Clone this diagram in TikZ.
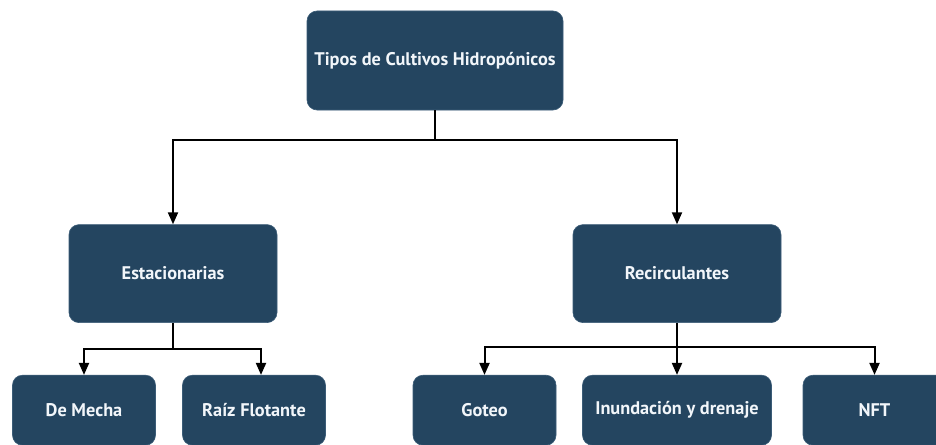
\documentclass[tikz,border=0pt]{standalone}
\usepackage{xcolor}
\usepackage{fontspec}
\setmainfont{PT Sans}
\usepackage{tikz}
\usetikzlibrary{arrows.meta,positioning,calc}
\definecolor{hidronavy}{HTML}{244560}
\definecolor{hidroedge}{HTML}{3B5C77}
\definecolor{hidrotext}{HTML}{F2F6FA}
\tikzstyle{tipo} = [rectangle, draw=hidroedge, line width=0.6pt, rounded corners=10pt,
    fill=hidronavy, text=hidrotext, text centered, inner sep=0pt,
    font=\bfseries\fontsize{18.3}{21}\selectfont]
\tikzstyle{raiz} = [tipo, minimum width=256pt, minimum height=99pt]
\tikzstyle{grupo} = [tipo, minimum width=208pt, minimum height=98pt]
\tikzstyle{hoja} = [tipo, minimum width=143pt, minimum height=70pt]
\tikzstyle{line} = [line width=2pt, black]
\tikzstyle{arrow} = [line, -{Triangle[length=12pt, width=10pt]}]

\begin{document}
\begin{tikzpicture}[x=1pt, y=1pt]
\useasboundingbox[fill=white] (0,0) rectangle (936,-444);
\node[raiz] (tipos) at (435,-60.5) {Tipos de Cultivos Hidrop\'onicos};
\node[grupo, below=114pt of tipos, xshift=-262pt] (estac) {Estacionarias};
\node[grupo, below=114pt of tipos, xshift=242pt] (recirc) {Recirculantes};
\node[hoja, below=52pt of estac, xshift=-89pt] (mecha) {De Mecha};
\node[hoja, below=52pt of estac, xshift=81pt] (flotante) {Ra\'iz Flotante};
\node[hoja, below=52pt of recirc, xshift=-192.5pt] (goteo) {Goteo};
\node[hoja, below=52pt of recirc, minimum width=189pt] (inund) {Inundaci\'on y drenaje};
\node[hoja, below=52pt of recirc, xshift=197.5pt] (nft) {NFT};

% splits
\coordinate (split) at ($(tipos.south)+(0,-30)$);
\coordinate[below=26pt of estac.south] (splitA);
\coordinate[below=24pt of recirc.south] (splitB);

\draw[line] (tipos) -- (split);
\draw[arrow] (split) -| (estac);
\draw[arrow] (split) -| (recirc);

\draw[line] (estac) -- (splitA);
\draw[arrow] (splitA) -| (mecha);
\draw[arrow] (splitA) -| ([xshift=7pt]flotante.north);

\draw[line] (recirc) -- (splitB);
\draw[arrow] (splitB) -| (goteo);
\draw[arrow] (splitB) -- (inund);
\draw[arrow] (splitB) -| (nft);
\end{tikzpicture}
\end{document}
